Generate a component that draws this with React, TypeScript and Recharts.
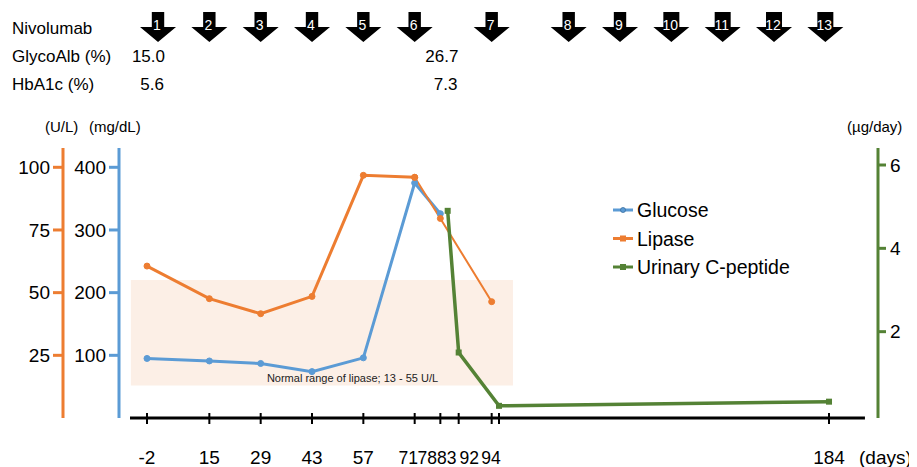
import React from "react"
import { LineChart, Line, XAxis, YAxis, ReferenceArea, ReferenceLine } from "recharts"

// x axis ticks (days)
const tickDays = [-2, 15, 29, 43, 57, 71, 78, 83, 92, 94, 184]

const glucoseDays = [-2, 15, 29, 43, 57, 71, 78]
const glucoseValues = [95, 91, 87, 74, 96, 375, 326]

const lipaseDays = [-2, 15, 29, 43, 57, 71, 78, 92]
const lipaseValues = [60.6, 47.6, 41.6, 48.5, 96.8, 96.0, 79.6, 46.4]

const cPeptideDays = [80, 83, 94, 184]
const cPeptideValues = [4.9, 1.5, 0.22, 0.32]

// Nivolumab doses and lab values in the header rows
const nivolumabDays = [1, 15, 29, 43, 57, 71, 92, 113, 127, 141, 155, 169, 183]
const labDays = [-2, 78]
const glycoAlbValues = ["15.0", "26.7"]
const hba1cValues = ["5.6", "7.3"]

const lipaseNormal = [13, 55]
const lipaseTicks = [25, 50, 75, 100]
const glucoseTicks = [100, 200, 300, 400]
const cPeptideTicks = [2, 4, 6]

const BLUE = "#5B9BD5"
const ORANGE = "#ED7D31"
const GREEN = "#548235"

const glucoseData = glucoseDays.map((day, i) => ({ day, v: glucoseValues[i] }))
const lipaseData = lipaseDays.map((day, i) => ({ day, v: lipaseValues[i] }))
const lipaseEarly = lipaseData.filter(d => d.day <= 71)
const lipaseLate = lipaseData.filter(d => d.day >= 71)
const cPeptideData = cPeptideDays.map((day, i) => ({ day, v: cPeptideValues[i] }))

// label nudges for the crowded tick labels
const labelShift: Record<number, number> = { 71: -6.5, 78: -13, 83: -12, 92: -22.5, 94: -8 }

function DayTick({ x, y, payload }: any) {
  const v = payload.value
  const crowded = labelShift[v] !== undefined
  return (
    <g>
      <line x1={x} x2={x} y1={y - 5} y2={y + 6} stroke="#000" strokeWidth={2} />
      <text
        x={x + (labelShift[v] ?? 0)}
        y={y + 46}
        textAnchor="middle"
        fontSize={19}
        fill="#000"
        {...(crowded ? { textLength: 19.5, lengthAdjust: "spacingAndGlyphs" } : {})}
      >
        {v}
      </text>
      {v === 184 && <text x={x + 30} y={y + 46} fontSize={19} fill="#000">(days)</text>}
    </g>
  )
}

function Arrow({ x1, n }: any) {
  const x = x1
  const sw = n >= 10 ? 8 : 6.2
  return (
    <g>
      <polygon
        points={`${x - sw},4 ${x + sw},4 ${x + sw},19 ${x + 18},19 ${x},34 ${x - 18},19 ${x - sw},19`}
        fill="#000"
      />
      <text x={x - 1} y={22} textAnchor="middle" fontSize={14} fill="#fff">{n}</text>
    </g>
  )
}

function LabValues({ x1, i }: any) {
  return (
    <g>
      <text x={x1 + 18} y={54} textAnchor="end" fontSize={17} fill="#000">{glycoAlbValues[i]}</text>
      <text x={x1 + 17} y={82} textAnchor="end" fontSize={17} fill="#000">{hba1cValues[i]}</text>
    </g>
  )
}

function NormalLabel({ viewBox }: any) {
  const { x, y, width, height } = viewBox
  return (
    <text x={x + width * 0.58} y={y + height - 3} textAnchor="middle" fontSize={11} fill="#222">
      Normal range of lipase; 13 - 55 U/L
    </text>
  )
}

const SquareDot = (p: any) => (
  <rect key={p.index} x={p.cx - 3} y={p.cy - 3} width={6} height={6} fill={GREEN} />
)

const legendItems = [
  { name: "Glucose", color: BLUE, shape: "circle" },
  { name: "Lipase", color: ORANGE, shape: "square" },
  { name: "Urinary C-peptide", color: GREEN, shape: "square" },
]

export default function App() {
  return (
    <div style={{ position: "relative", width: 909, height: 459, fontFamily: "'Liberation Sans', Arial, sans-serif" }}>
      <LineChart width={909} height={459} margin={{ top: 140, right: 0, bottom: 0, left: 0 }}>
        <XAxis
          dataKey="day"
          type="number"
          domain={[-9.64, 197.36]}
          allowDataOverflow
          ticks={tickDays}
          interval={0}
          height={49}
          axisLine={false}
          tickLine={false}
          tickSize={0}
          tickMargin={0}
          tick={<DayTick />}
        />
        <YAxis
          yAxisId="glucose"
          orientation="left"
          width={56}
          domain={[0, 430.8]}
          allowDataOverflow
          ticks={glucoseTicks}
          interval={0}
          axisLine={{ stroke: BLUE, strokeWidth: 3 }}
          tickLine={{ stroke: BLUE, strokeWidth: 3 }}
          tickSize={10}
          tickMargin={3}
          tick={{ fill: "#000", fontSize: 19 }}
        />
        <YAxis
          yAxisId="lipase"
          orientation="left"
          width={55}
          domain={[0, 107.7]}
          allowDataOverflow
          ticks={lipaseTicks}
          interval={0}
          axisLine={{ stroke: ORANGE, strokeWidth: 3 }}
          tickLine={{ stroke: ORANGE, strokeWidth: 3 }}
          tickSize={10}
          tickMargin={3}
          tick={{ fill: "#000", fontSize: 19 }}
        />
        <YAxis
          yAxisId="cpep"
          orientation="right"
          width={39}
          domain={[-0.072, 6.408]}
          allowDataOverflow
          ticks={cPeptideTicks}
          interval={0}
          axisLine={{ stroke: GREEN, strokeWidth: 3 }}
          tickLine={{ stroke: GREEN, strokeWidth: 3 }}
          tickSize={8}
          tickMargin={4}
          tick={{ fill: "#000", fontSize: 19, textAnchor: "start" }}
        />

        <ReferenceArea
          yAxisId="lipase"
          x1={-6.4}
          x2={97.8}
          y1={lipaseNormal[0]}
          y2={lipaseNormal[1]}
          fill="#FCEFE6"
          fillOpacity={1}
          stroke="none"
          label={(props: any) => <NormalLabel {...props} />}
        />
        <ReferenceLine
          yAxisId="lipase"
          segment={[{ x: -6.64, y: 0 }, { x: 193.8, y: 0 }]}
          stroke="#000"
          strokeWidth={3}
        />

        {nivolumabDays.map((d, i) => (
          <ReferenceLine key={"n" + i} yAxisId="lipase" x={d} shape={(p: any) => <Arrow {...p} n={i + 1} />} />
        ))}
        {labDays.map((d, i) => (
          <ReferenceLine key={"l" + i} yAxisId="lipase" x={d} shape={(p: any) => <LabValues {...p} i={i} />} />
        ))}

        <Line yAxisId="glucose" data={glucoseData} dataKey="v" stroke={BLUE} strokeWidth={3}
          dot={{ r: 3, fill: BLUE, stroke: BLUE, strokeWidth: 1 }} isAnimationActive={false} />
        <Line yAxisId="lipase" data={lipaseEarly} dataKey="v" stroke={ORANGE} strokeWidth={3}
          dot={{ r: 3, fill: ORANGE, stroke: ORANGE, strokeWidth: 1 }} isAnimationActive={false} />
        <Line yAxisId="lipase" data={lipaseLate} dataKey="v" stroke={ORANGE} strokeWidth={2}
          dot={{ r: 3, fill: ORANGE, stroke: ORANGE, strokeWidth: 1 }} isAnimationActive={false} />
        <Line yAxisId="cpep" data={cPeptideData} dataKey="v" stroke={GREEN} strokeWidth={3.5}
          dot={SquareDot} isAnimationActive={false} />
      </LineChart>

      <svg width={909} height={459} style={{ position: "absolute", left: 0, top: 0, pointerEvents: "none" }}>
        <text x={4} y={26} fontSize={17} fill="#000">Nivolumab</text>
        <text x={4} y={54} fontSize={17} fill="#000">GlycoAlb (%)</text>
        <text x={4} y={82} fontSize={17} fill="#000">HbA1c (%)</text>
        <text x={37} y={124} fontSize={15} fill="#000">(U/L)</text>
        <text x={81} y={124} fontSize={15} fill="#000">(mg/dL)</text>
        <text x={839} y={124} fontSize={15} fill="#000">(µg/day)</text>
        {legendItems.map((it, i) => {
          const y = 202 + i * 28.5
          return (
            <g key={it.name}>
              <line x1={605} x2={625} y1={y} y2={y} stroke={it.color} strokeWidth={3} />
              {it.shape === "circle"
                ? <circle cx={615} cy={y} r={2.5} fill={it.color} stroke="#3a6fa0" strokeWidth={0.8} />
                : <rect x={612} y={y - 3} width={6} height={6} fill={it.color} />}
              <text x={629} y={y + 7} fontSize={19.5} fill="#000">{it.name}</text>
            </g>
          )
        })}
      </svg>
    </div>
  )
}
